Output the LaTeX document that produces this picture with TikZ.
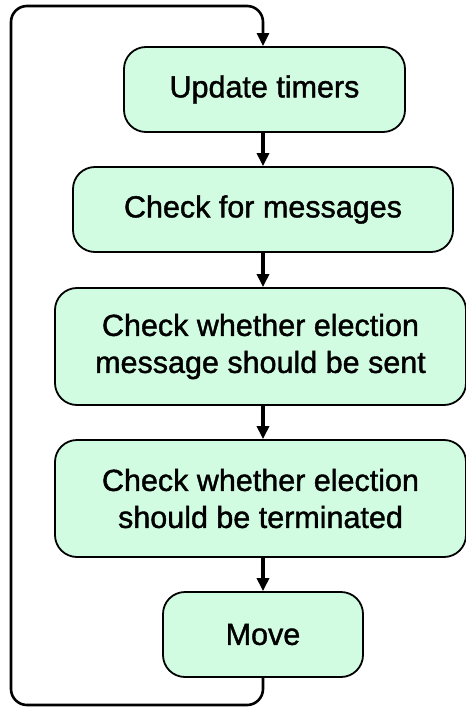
\documentclass[tikz,border=0pt]{standalone}
\usepackage{fontspec}
\setmainfont{Liberation Sans}[FakeBold=1.3]
\usetikzlibrary{arrows.meta}
\definecolor{stepfill}{HTML}{D2FCE2}
\tikzset{
  stepbox/.style={draw=black, line width=1.8pt, fill=stepfill, rounded corners=22pt,
    align=center, inner sep=0pt, font=\fontsize{30.5}{37}\selectfont},
  flow/.style={line width=3.2pt, -{Triangle[length=13pt,width=12pt]}},
}
\begin{document}
\begin{tikzpicture}[x=1pt, y=-1pt]
  \useasboundingbox (0,0) rectangle (465,708);
  \node[stepbox, minimum width=281pt, minimum height=85pt] (upd) at (264.5,89.5) {Update timers};
  \node[stepbox, minimum width=380pt, minimum height=85pt] (msg) at (263,209.5) {Check for messages};
  \node[stepbox, minimum width=411pt, minimum height=117pt] (send) at (260.5,346.5)
    {Check whether election\\message should be sent};
  \node[stepbox, minimum width=411pt, minimum height=117pt] (term) at (260.5,498.5)
    {Check whether election\\should be terminated};
  \node[stepbox, minimum width=200pt, minimum height=85pt] (move) at (263,634.5) {Move};

  \coordinate (lb) at (11,705);
  \coordinate (lt) at (11,6);

  \draw[flow] (upd.south -| 263,0) -- (msg.north -| 263,0);
  \draw[flow] (msg.south -| 263,0) -- (send.north -| 263,0);
  \draw[flow] (send.south -| 263,0) -- (term.north -| 263,0);
  \draw[flow] (term.south -| 263,0) -- (move.north -| 263,0);
  \draw[flow, line width=2.6pt, rounded corners=16pt] (move.south -| 263,0) |- (lb) -- (lt) -| (upd.north -| 263,0);
\end{tikzpicture}
\end{document}
